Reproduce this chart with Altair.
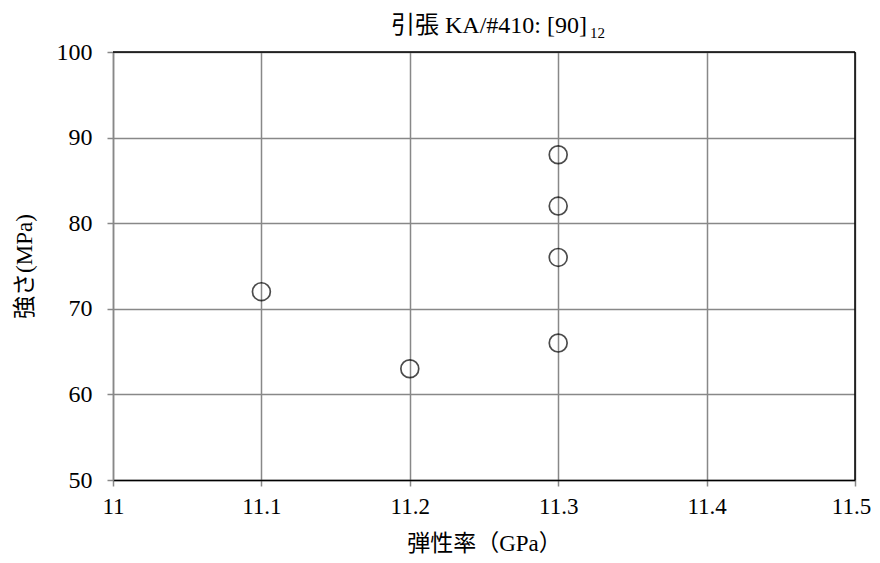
import altair as alt
import pandas as pd

modulus = [11.1, 11.2, 11.3, 11.3, 11.3, 11.3]
strength = [72, 63, 88, 82, 76, 66]
title_main = "引張 KA/#410: [90]"
title_sub = "12"
x_title = "弾性率（GPa）"
y_title = "強さ(MPa)"

df = pd.DataFrame({"E": modulus, "S": strength})
FONT = "Liberation Serif, Times New Roman, Noto Sans CJK JP"

W, H = 742, 428

pts = alt.Chart(df).mark_point(shape="circle", size=320, filled=False, color="black", strokeWidth=1.7).encode(
    x=alt.X("E:Q", scale=alt.Scale(domain=[11, 11.5], nice=False),
            axis=alt.Axis(title=x_title, values=[11, 11.1, 11.2, 11.3, 11.4, 11.5], format=".1~f",
                          grid=True, gridColor="#888888", gridWidth=1.5,
                          domainColor="black", domainWidth=1.5,
                          tickColor="#888888", tickSize=6, tickWidth=1.5,
                          labelFont=FONT, labelFontSize=23, labelColor="black", labelPadding=9,
                          labelFlush=False,
                          labelOffset={"condition": {"test": "datum.value == 11.5", "value": -4}, "value": 0},
                          titleFont=FONT, titleFontSize=23, titleFontWeight="normal", titleColor="black",
                          titlePadding=14)),
    y=alt.Y("S:Q", scale=alt.Scale(domain=[50, 100], nice=False),
            axis=alt.Axis(title=y_title, values=[50, 60, 70, 80, 90, 100],
                          grid=True, gridColor="#888888", gridWidth=1.5,
                          domainColor="#888888", domainWidth=1.5,
                          tickColor="#888888", tickSize=6, tickWidth=1.5,
                          labelFont=FONT, labelFontSize=24, labelColor="black", labelPadding=15,
                          labelFlush=False,
                          titleFont=FONT, titleFontSize=23, titleFontWeight="normal", titleColor="black",
                          titlePadding=20)),
)

frame_top = alt.Chart(pd.DataFrame({"a": [0]})).mark_rule(color="black", strokeWidth=1.5).encode(
    x=alt.value(0), x2=alt.value(W), y=alt.value(0))
frame_right = alt.Chart(pd.DataFrame({"a": [0]})).mark_rule(color="black", strokeWidth=1.5).encode(
    x=alt.value(W), y=alt.value(0), y2=alt.value(H))

t_main = alt.Chart(pd.DataFrame({"t": [title_main]})).mark_text(
    font=FONT, fontSize=24, align="right", baseline="alphabetic", color="black").encode(
    text="t:N", x=alt.value(474), y=alt.value(-19))
t_sub = alt.Chart(pd.DataFrame({"t": [title_sub]})).mark_text(
    font=FONT, fontSize=15, align="left", baseline="alphabetic", color="black").encode(
    text="t:N", x=alt.value(477), y=alt.value(-14))

chart = alt.layer(pts, frame_top, frame_right, t_main, t_sub).properties(
    width=W, height=H,
    autosize=alt.AutoSizeParams(type="none"),
    padding={"left": 105, "top": 44, "right": 17, "bottom": 75},
).configure_view(stroke=None)

chart.save("out.html", embed_options={"renderer": "svg", "actions": False})
